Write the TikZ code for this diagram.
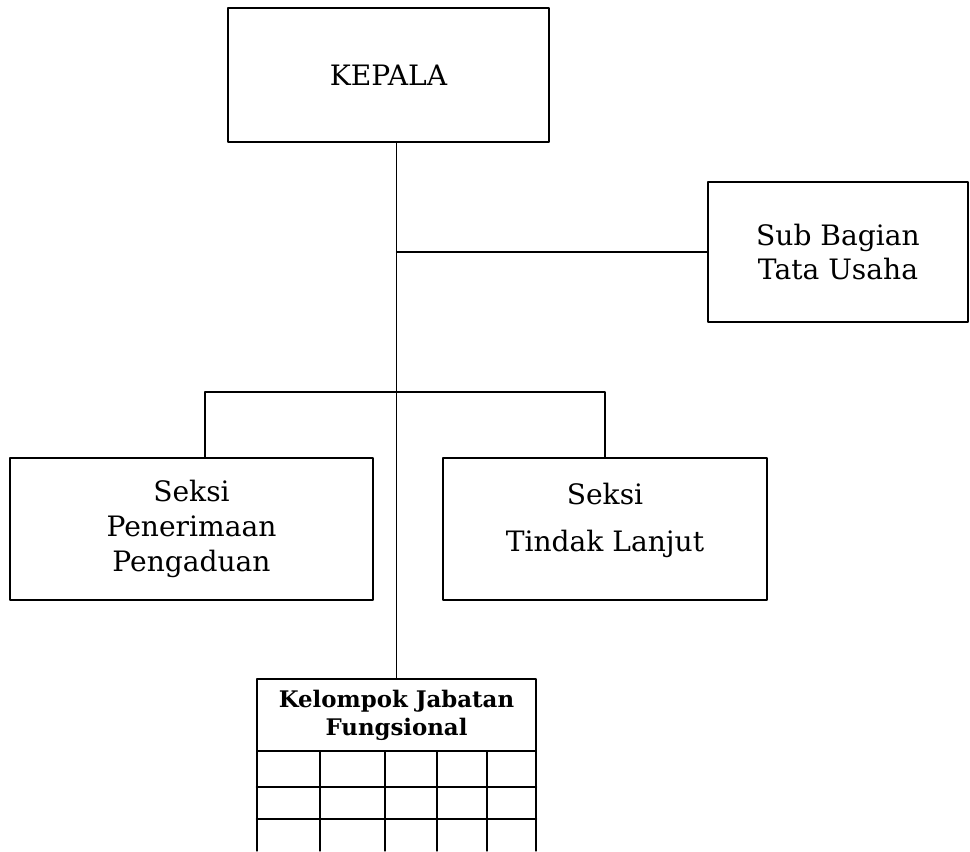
\documentclass[tikz,border=0pt]{standalone}
\usepackage{fontspec}
\setmainfont{DejaVu Serif}
\tikzset{
  kotak/.style={draw, line width=0.7pt, align=center, inner sep=0pt, font=\fontsize{16}{19}\selectfont},
  garis/.style={line width=0.7pt}
}
\begin{document}
\begin{tikzpicture}[line join=round, line cap=round]
  \useasboundingbox (0,0) rectangle (19.4,-17.02);
  % kotak-kotak unit
  \node[kotak, minimum width=6.42cm, minimum height=2.68cm] (kepala) at (7.77,-1.5) {KEPALA};
  \node[kotak, minimum width=5.2cm, minimum height=2.8cm] (tu) at (16.76,-5.04) {Sub Bagian\\Tata Usaha};
  \node[kotak, minimum width=7.26cm, minimum height=2.84cm] (terima) at (3.83,-10.58) {Seksi\\[1pt]Penerimaan\\[1pt]Pengaduan};
  \node[kotak, minimum width=6.48cm, minimum height=2.84cm] (lanjut) at (12.1,-10.58) {Seksi\\[8pt]Tindak Lanjut\\[-6pt]\mbox{}};
  \node[kotak, font=\bfseries\fontsize{13}{16}\selectfont, minimum width=5.58cm, minimum height=1.44cm] (jf) at (7.93,-14.3) {Kelompok Jabatan\\Fungsional};
  % garis komando
  \coordinate (cab) at (7.93,-7.84);
  \draw[garis] (kepala.south -| jf.north) -- (jf.north);
  \draw[garis] (tu.west) -- (tu.west -| jf.north);
  \draw[garis] ([xshift=0.27cm]terima.north) |- (cab) -| (lanjut.north);
  % tabel jabatan fungsional
  \foreach \y in {-15.74,-16.38}
    \draw[garis] (jf.west |- 0,\y) -- (jf.east |- 0,\y);
  \foreach \x in {5.14,6.4,7.7,8.74,9.74,10.72}
    \draw[garis] (\x,-15.02) -- (\x,-17.02);
\end{tikzpicture}
\end{document}
